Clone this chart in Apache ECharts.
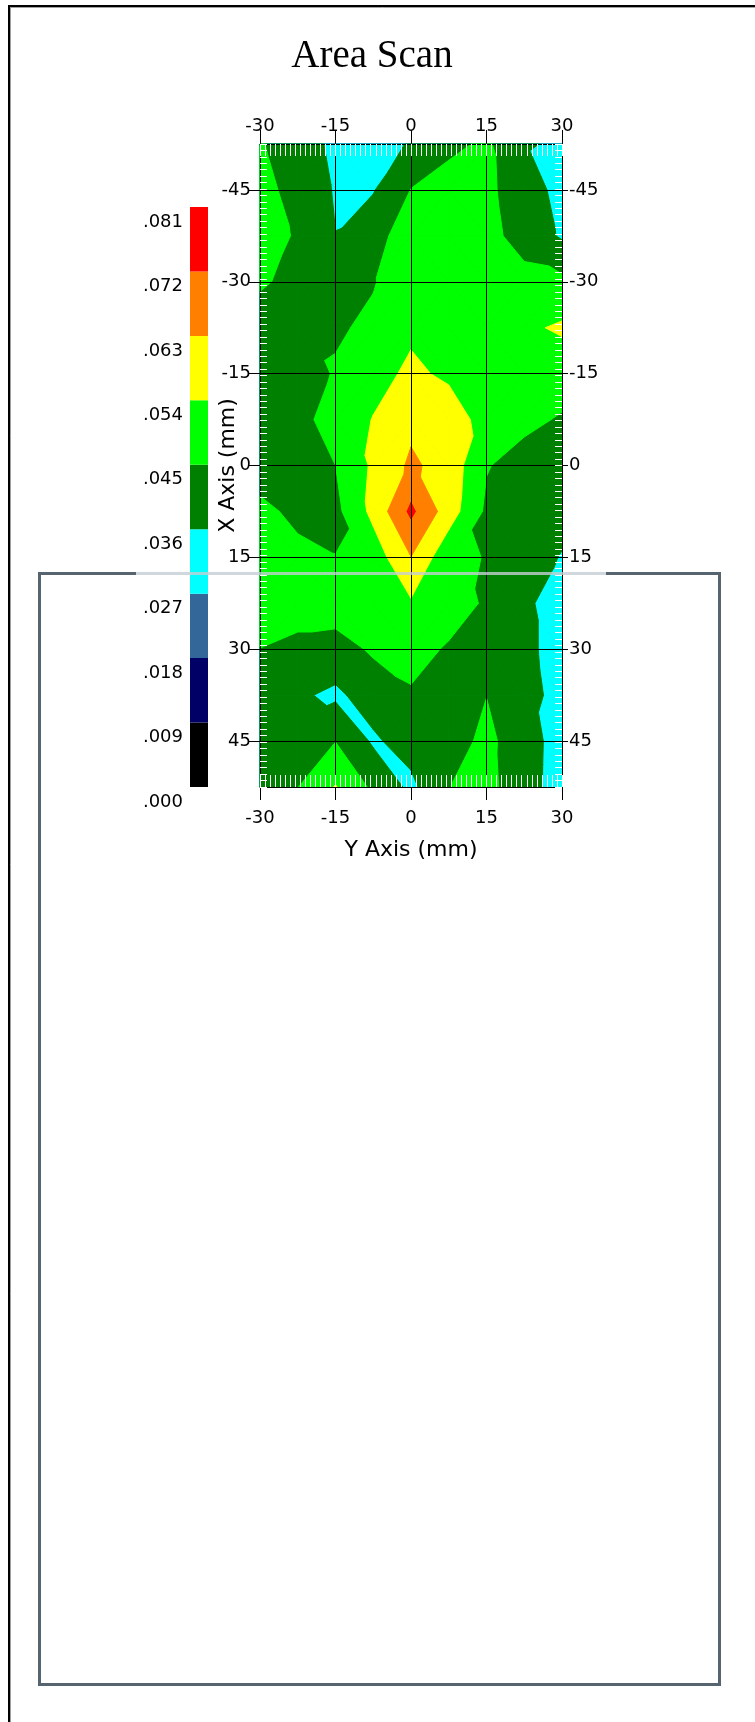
<!DOCTYPE html>
<html>
<head>
<meta charset="utf-8">
<script src="https://cdn.jsdelivr.net/npm/echarts@6/dist/echarts.min.js"></script>
<style>
  html, body { margin: 0; padding: 0; background: #ffffff; }
  #chart { width: 755px; height: 1722px; }
</style>
</head>
<body>
<div id="chart"></div>
<script>
// Scan positions in mm: columns along the Y axis, rows along the X axis
const scanY = [-30, -22.5, -15, -7.5, 0, 7.5, 15, 22.5, 30];
const scanX = [-52.5, -45, -37.5, -30, -22.5, -15, -7.5, 0, 7.5, 15, 22.5, 30, 37.5, 45, 52.5];

// Measured amplitude per scan row, one value per scanY column
const ampXm52_5 = [0.0455, 0.0418, 0.0334, 0.0320, 0.0368, 0.0428, 0.0465, 0.0365, 0.0352];
const ampXm45   = [0.0470, 0.0428, 0.0352, 0.0355, 0.0452, 0.0490, 0.0468, 0.0404, 0.0331];
const ampXm37_5 = [0.0475, 0.0444, 0.0361, 0.0410, 0.0507, 0.0520, 0.0480, 0.0412, 0.0350];
const ampXm30   = [0.0458, 0.0432, 0.0400, 0.0445, 0.0499, 0.0510, 0.0500, 0.0480, 0.0470];
const ampXm22_5 = [0.0420, 0.0430, 0.0440, 0.0465, 0.0527, 0.0520, 0.0500, 0.0525, 0.0552];
const ampXm15   = [0.0410, 0.0400, 0.0458, 0.0514, 0.0554, 0.0527, 0.0500, 0.0490, 0.0490];
const ampXm7_5  = [0.0400, 0.0420, 0.0490, 0.0543, 0.0608, 0.0580, 0.0510, 0.0470, 0.0442];
const ampX0     = [0.0410, 0.0410, 0.0450, 0.0554, 0.0645, 0.0594, 0.0455, 0.0417, 0.0400];
const ampX7_5   = [0.0470, 0.0431, 0.0426, 0.0564, 0.0738, 0.0584, 0.0434, 0.0400, 0.0390];
const ampX15    = [0.0470, 0.0470, 0.0452, 0.0490, 0.0628, 0.0474, 0.0446, 0.0400, 0.0355];
const ampX22_5  = [0.0490, 0.0500, 0.0500, 0.0500, 0.0529, 0.0490, 0.0439, 0.0380, 0.0309];
const ampX30    = [0.0448, 0.0420, 0.0410, 0.0463, 0.0480, 0.0441, 0.0400, 0.0380, 0.0326];
const ampX37_5  = [0.0400, 0.0371, 0.0345, 0.0396, 0.0441, 0.0420, 0.0449, 0.0390, 0.0331];
const ampX45    = [0.0410, 0.0410, 0.0448, 0.0348, 0.0395, 0.0420, 0.0466, 0.0411, 0.0310];
const ampX52_5  = [0.0400, 0.0448, 0.0545, 0.0432, 0.0340, 0.0448, 0.0470, 0.0408, 0.0308];

const amplitudeRows = [ampXm52_5, ampXm45, ampXm37_5, ampXm30, ampXm22_5, ampXm15, ampXm7_5,
  ampX0, ampX7_5, ampX15, ampX22_5, ampX30, ampX37_5, ampX45, ampX52_5];

// Contour levels and the colour of each band between consecutive levels
const levels = [0, 0.009, 0.018, 0.027, 0.036, 0.045, 0.054, 0.063, 0.072, 0.081];
const bandColors = ['#000000', '#000066', '#336699', '#00ffff', '#008000', '#00ff00', '#ffff00', '#ff8000', '#ff0000'];

// Tick labels
const yAxisTicks = [-30, -15, 0, 15, 30];
const xAxisTicks = [-45, -30, -15, 0, 15, 30, 45];

const labelFont = 'DejaVu Sans';

// Keep the part of a polygon of [y, x, value] vertices lying at or above a level
function clipAbove(poly, level) {
  const out = [];
  for (let i = 0; i < poly.length; i++) {
    const a = poly[i];
    const b = poly[(i + 1) % poly.length];
    const inA = a[2] >= level;
    const inB = b[2] >= level;
    if (inA) out.push(a);
    if (inA !== inB) {
      const t = (level - a[2]) / (b[2] - a[2]);
      out.push([a[0] + t * (b[0] - a[0]), a[1] + t * (b[1] - a[1]), level]);
    }
  }
  return out;
}

// One data item per grid cell
const cells = [];
for (let r = 0; r < scanX.length - 1; r++) {
  for (let c = 0; c < scanY.length - 1; c++) {
    cells.push([(scanY[c] + scanY[c + 1]) / 2, (scanX[r] + scanX[r + 1]) / 2, c, r]);
  }
}

// Filled contours of one cell: every band is layered (z2) above all lower bands
function renderCell(params, api) {
  const c = api.value(2);
  const r = api.value(3);
  const node = (ci, ri) => [scanY[ci], scanX[ri], amplitudeRows[ri][ci]];
  const a = node(c, r), b = node(c + 1, r), cc = node(c + 1, r + 1), d = node(c, r + 1);
  // split the cell along the diagonal whose ends are closest in value
  const tris = Math.abs(a[2] - cc[2]) <= Math.abs(b[2] - d[2])
    ? [[a, b, cc], [a, cc, d]]
    : [[a, b, d], [b, cc, d]];
  const children = [];
  tris.forEach(function (tri) {
    for (let k = 0; k < bandColors.length; k++) {
      const poly = k === 0 ? tri : clipAbove(tri, levels[k]);
      if (poly.length < 3) break;
      children.push({
        type: 'polygon',
        z2: k,
        shape: { points: poly.map(function (v) { return api.coord([v[0], v[1]]); }) },
        style: { fill: bandColors[k], stroke: bandColors[k], lineWidth: 1 },
        silent: true
      });
    }
  });
  return { type: 'group', children: children };
}

// Colour bar: one stacked segment per band
const colorBarSeries = bandColors.map(function (col, k) {
  return {
    type: 'bar', xAxisIndex: 4, yAxisIndex: 4, stack: 'legend', barWidth: '100%',
    silent: true, itemStyle: { color: col },
    data: [levels[k + 1] - levels[k]]
  };
});

function hatchAxis(pos, isX) {
  const ax = {
    type: 'value', gridIndex: 0, position: pos, z: 6,
    axisLine: { show: false, onZero: false },
    axisLabel: { show: false },
    splitLine: { show: false },
    axisTick: { show: true, inside: true, length: isX ? 12 : 7, lineStyle: { color: '#ffffff', width: 1 } }
  };
  if (isX) { ax.min = -30; ax.max = 30; ax.interval = 1; }
  else { ax.min = -52.5; ax.max = 52.5; ax.interval = 1.05; ax.inverse = true; }
  return ax;
}

const chart = echarts.init(document.getElementById('chart'), null, { renderer: 'canvas' });

const option = {
  animation: false,
  backgroundColor: '#ffffff',
  grid: [
    { left: 260, top: 144, width: 302, height: 643 },
    { left: 190, top: 207, width: 18, height: 580 }
  ],
  xAxis: [
    {
      type: 'value', gridIndex: 0, min: -30, max: 30, interval: 15, position: 'bottom', z: 5,
      name: 'Y Axis (mm)', nameLocation: 'middle', nameGap: 52, nameMoveOverlap: false,
      nameTextStyle: { fontFamily: labelFont, fontSize: 22, color: '#000' },
      axisLine: { show: true, onZero: false, lineStyle: { color: '#000', width: 1 } },
      axisTick: { show: true, length: 13, lineStyle: { color: '#000', width: 1 } },
      axisLabel: { margin: 22, fontFamily: labelFont, fontSize: 18, color: '#000' },
      splitLine: { show: true, lineStyle: { color: '#000', width: 1 } }
    },
    {
      type: 'value', gridIndex: 0, min: -30, max: 30, interval: 15, position: 'top', z: 5,
      axisLine: { show: true, onZero: false, lineStyle: { color: '#000', width: 1 } },
      axisTick: { show: true, length: 14, lineStyle: { color: '#000', width: 1 } },
      axisLabel: { margin: 9, fontFamily: labelFont, fontSize: 18, color: '#000' },
      splitLine: { show: false }
    },
    hatchAxis('bottom', true),
    hatchAxis('top', true),
    { type: 'category', gridIndex: 1, data: [''], show: false }
  ],
  yAxis: [
    {
      type: 'value', gridIndex: 0, min: -52.5, max: 52.5, inverse: true, position: 'left', z: 5,
      name: 'X Axis (mm)', nameLocation: 'middle', nameGap: 21, nameRotate: 90, nameMoveOverlap: false,
      nameTextStyle: { fontFamily: labelFont, fontSize: 22, color: '#000' },
      axisLine: { show: true, onZero: false, lineStyle: { color: '#000', width: 1 } },
      axisTick: { show: true, length: 11, customValues: xAxisTicks, lineStyle: { color: '#000', width: 1 } },
      axisLabel: { margin: 9, customValues: xAxisTicks, fontFamily: labelFont, fontSize: 18, color: '#000' },
      splitLine: { show: true, lineStyle: { color: '#000', width: 1 } }
    },
    {
      type: 'value', gridIndex: 0, min: -52.5, max: 52.5, inverse: true, position: 'right', z: 5,
      axisLine: { show: true, onZero: false, lineStyle: { color: '#000', width: 1 } },
      axisTick: { show: true, length: 6, customValues: xAxisTicks, lineStyle: { color: '#000', width: 1 } },
      axisLabel: { margin: 7, customValues: xAxisTicks, fontFamily: labelFont, fontSize: 18, color: '#000' },
      splitLine: { show: false }
    },
    hatchAxis('left', false),
    hatchAxis('right', false),
    {
      type: 'value', gridIndex: 1, min: levels[0], max: levels[levels.length - 1], interval: levels[1] - levels[0],
      position: 'left',
      axisLine: { show: false, onZero: false }, axisTick: { show: false }, splitLine: { show: false },
      axisLabel: {
        margin: 7, fontFamily: labelFont, fontSize: 18, color: '#000',
        verticalAlign: 'top', lineHeight: 30,
        formatter: function (v) { return v.toFixed(3).replace(/^0/, ''); }
      }
    }
  ],
  series: [
    {
      type: 'custom', xAxisIndex: 0, yAxisIndex: 0, silent: true, z: 2,
      renderItem: renderCell, data: cells
    }
  ].concat(colorBarSeries),
  graphic: [
    // page frame
    { type: 'line', shape: { x1: 8, y1: 6, x2: 755, y2: 6 }, style: { stroke: '#000', lineWidth: 2 }, z: 100 },
    { type: 'line', shape: { x1: 9, y1: 6, x2: 9, y2: 1722 }, style: { stroke: '#000', lineWidth: 2 }, z: 100 },
    { type: 'line', shape: { x1: 10, y1: 7.5, x2: 755, y2: 7.5 }, style: { stroke: '#a0a0a0', lineWidth: 1 }, z: 100 },
    { type: 'line', shape: { x1: 10.5, y1: 7, x2: 10.5, y2: 1722 }, style: { stroke: '#a0a0a0', lineWidth: 1 }, z: 100 },
    // title
    {
      type: 'text', x: 372, y: 57, z: 100,
      style: { text: 'Area Scan', align: 'center', verticalAlign: 'middle', fill: '#000',
        font: '39px "Liberation Serif"' }
    },
    // panel outline
    { type: 'polyline', shape: { points: [[136, 573.5], [39.5, 573.5], [39.5, 1684.5], [719.5, 1684.5], [719.5, 573.5], [606, 573.5]] },
      style: { stroke: '#56646f', lineWidth: 3, fill: null }, z: 100 },
    { type: 'line', shape: { x1: 136, y1: 573.5, x2: 606, y2: 573.5 },
      style: { stroke: 'rgba(196,206,212,0.8)', lineWidth: 3 }, z: 100 }
  ]
};

chart.setOption(option);
</script>
</body>
</html>
